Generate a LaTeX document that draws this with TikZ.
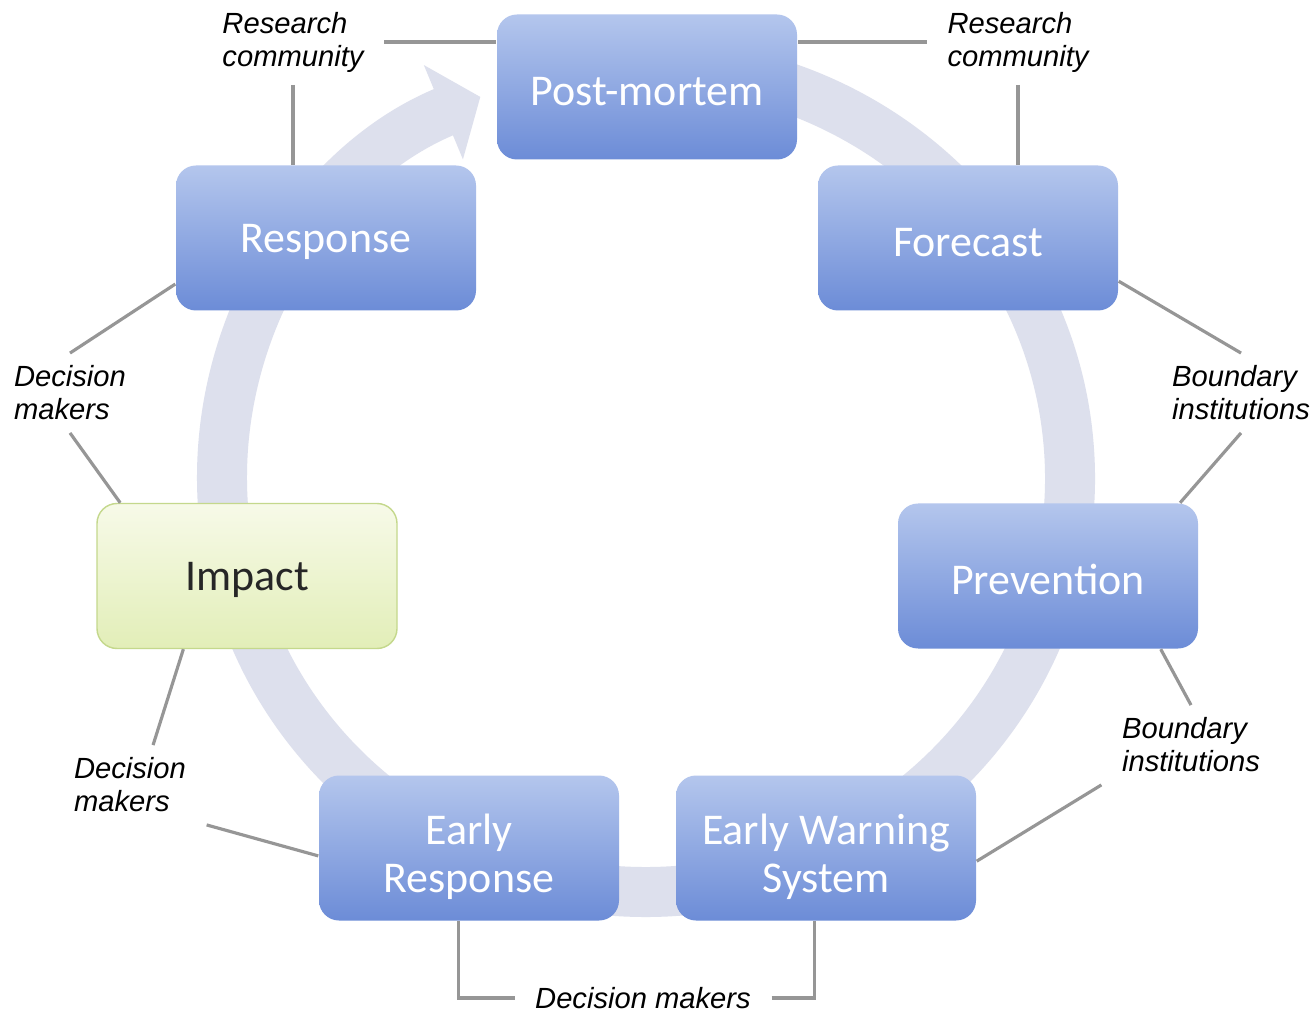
\documentclass[tikz,border=0pt]{standalone}
\usepackage{fontspec}
\setmainfont{Liberation Sans}
\newfontfamily\boxfont{Carlito}
\usetikzlibrary{arrows.meta, positioning, calc}
\definecolor{ringgray}{RGB}{221,224,237}
\definecolor{boxtop}{RGB}{180,198,237}
\definecolor{boxbot}{RGB}{108,140,215}
\definecolor{imptop}{RGB}{247,250,232}
\definecolor{impbot}{RGB}{226,238,184}
\definecolor{impline}{RGB}{196,216,140}
\definecolor{linkgray}{RGB}{150,150,150}
\newcommand{\lift}{\rule{0pt}{13.5pt}}

\begin{document}
\begin{tikzpicture}[
    stage/.style={rounded corners=2mm, minimum width=3cm, minimum height=1.45cm, align=center,
        top color=boxtop, bottom color=boxbot, text=white, font=\boxfont\fontsize{12.5}{13.7}\selectfont,
        execute at begin node={\rule{0pt}{10.5pt}}},
    impactbox/.style={stage, top color=imptop, bottom color=impbot, draw=impline, text=black!85},
    actor/.style={font=\itshape\fontsize{8.3}{9.4}\selectfont, align=left, inner xsep=2mm, inner ysep=1.2mm},
    link/.style={draw=linkgray, line width=0.9pt}
]
    \useasboundingbox[fill=white] (0,0) rectangle (13.14,10.13);

    % cycle arrow behind the stages
    \coordinate (ctr) at (6.46,5.35);
    \draw[ringgray, line width=5mm, -{Triangle[length=4mm, width=10mm]}]
        (ctr) ++(95:4.24cm and 4.14cm) arc[start angle=95, end angle=-247, x radius=4.24cm, y radius=4.14cm];

    % stages
    \node[stage] (pm) at (6.47,9.26) {Post-mortem};
    \node[stage] (fc) at (9.68,7.75) {Forecast};
    \node[stage] (pv) at (10.48,4.37) {Prevention};
    \node[stage] (ews) at (8.26,1.65) {\lift Early Warning\\System};
    \node[stage] (er) at (4.69,1.65) {\lift Early\\Response};
    \node[impactbox] (imp) at (2.47,4.37) {Impact};
    \node[stage] (resp) at (3.26,7.75) {Response};

    % actors
    \node[actor] (rcl) at (2.93,9.71) {Research\\community};
    \node[actor] (rcr) at (10.18,9.71) {Research\\community};
    \node[actor] (dml) at (0.70,6.20) {Decision\\makers};
    \node[actor] (bir) at (12.41,6.20) {Boundary\\institutions};
    \node[actor] (bil) at (11.91,2.68) {Boundary\\institutions};
    \node[actor] (dmll) at (1.30,2.28) {Decision\\makers};
    \node[actor] (dmb) at (6.43,0.15) {Decision makers};

    \draw[link] (rcl.east) -- (rcl.east -| pm.west);
    \draw[link] (rcl.south) -- (rcl.south |- resp.north);
    \draw[link] (rcr.west) -- (rcr.west -| pm.east);
    \draw[link] (rcr.south) -- (rcr.south |- fc.north);
    \draw[link] (dml.north) -- (resp.197);
    \draw[link] (dml.south) -- (imp.150);
    \draw[link] (bir.north) -- (fc.-16);
    \draw[link] (bir.south) -- (pv.29);
    \draw[link] (bil.north) -- (pv.-33);
    \draw[link] (bil.south west) -- (ews.-5);
    \draw[link] (dmll.60) -- (imp.-131);
    \draw[link] (dmll.south east) -- (er.183);
    \draw[link] (dmb.west) -| (er.-98);
    \draw[link] (dmb.east) -| (ews.-99);
\end{tikzpicture}
\end{document}
